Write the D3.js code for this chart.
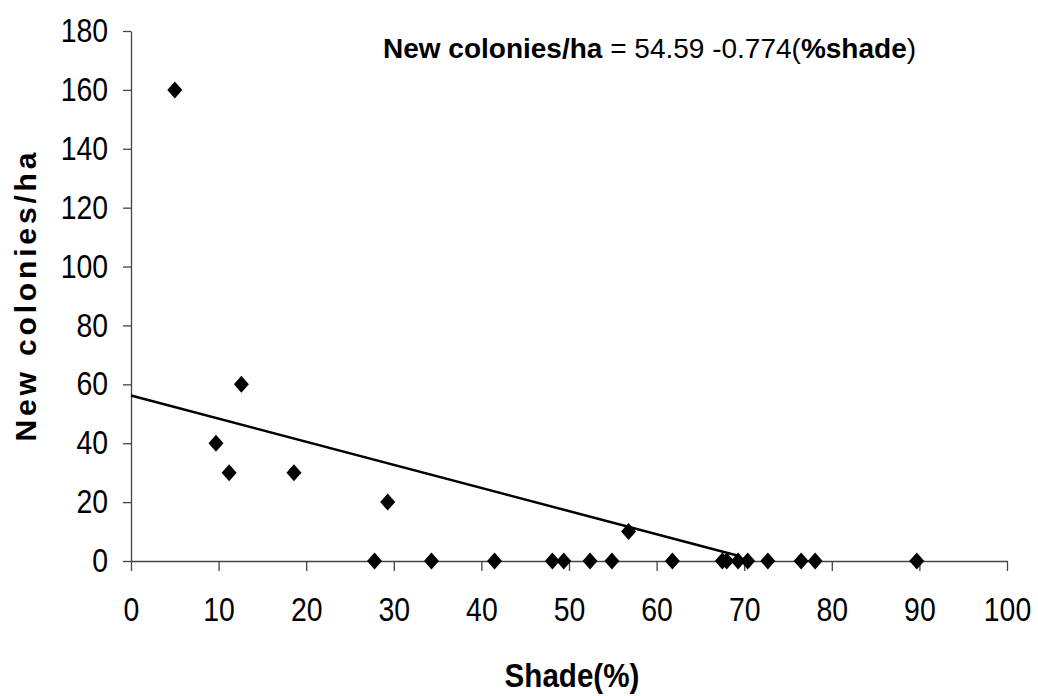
<!DOCTYPE html>
<html>
<head>
<meta charset="utf-8">
<script src="https://cdn.jsdelivr.net/npm/d3@7"></script>
<style>
  body { margin: 0; background: #fff; }
  svg { display: block; font-family: "Liberation Sans", Arial, sans-serif; }
</style>
</head>
<body>
<svg id="chart" width="1038" height="696"></svg>
<script>
// shade (%) and new colonies per ha
const shade = [5.0, 9.7, 11.2, 12.6, 18.6, 29.3, 27.8, 34.3, 41.5, 48.1, 49.4, 52.4, 54.9,
               56.8, 61.8, 67.5, 68.0, 69.3, 70.4, 72.7, 76.5, 78.1, 89.7]
const colonies = [160, 40, 30, 60, 30, 20, 0, 0, 0, 0, 0, 0, 0,
                  10, 0, 0, 0, 0, 0, 0, 0, 0, 0]

// fitted line end points
const trendX = [0, 69.3]
const trendY = [56.2, 1.8]

const xTicks = [0, 10, 20, 30, 40, 50, 60, 70, 80, 90, 100]
const yTicks = [0, 20, 40, 60, 80, 100, 120, 140, 160, 180]

const margin = {top: 31, right: 31, bottom: 135, left: 131}
const width = 1038, height = 696

const svg = d3.select('#chart')

const x = d3.scaleLinear().domain([0, 100]).range([margin.left, width - margin.right])
const y = d3.scaleLinear().domain([0, 180]).range([height - margin.bottom, margin.top])

// squeeze text a bit, the original uses a condensed-looking face
function squeeze(sel, k) {
    sel.each(function() {
        const w = this.getComputedTextLength()
        d3.select(this).attr('textLength', w * k).attr('lengthAdjust', 'spacingAndGlyphs')
    })
}

const xAxis = svg.append('g')
    .attr('transform', `translate(0,${y(0)})`)
    .call(d3.axisBottom(x).tickValues(xTicks).tickSize(10).tickSizeOuter(0).tickPadding(27))
const yAxis = svg.append('g')
    .attr('transform', `translate(${x(0)},0)`)
    .call(d3.axisLeft(y).tickValues(yTicks).tickSize(8).tickSizeOuter(0).tickPadding(15))

;[xAxis, yAxis].forEach(a => {
    a.select('.domain').attr('stroke', '#444').attr('stroke-width', 1.3)
    a.selectAll('.tick line').attr('stroke', '#444').attr('stroke-width', 1.3)
    a.selectAll('.tick text')
        .attr('fill', '#000')
        .style('font-size', '33px')
        .style('font-family', '"Liberation Sans", Arial, sans-serif')
        .call(squeeze, 0.86)
})

// trend line
svg.append('line')
    .attr('x1', x(trendX[0])).attr('y1', y(trendY[0]))
    .attr('x2', x(trendX[1])).attr('y2', y(trendY[1]))
    .attr('stroke', '#000')
    .attr('stroke-width', 2.5)

// diamonds
const pts = shade.map((s, i) => ({s: s, c: colonies[i]}))
svg.append('g').selectAll('path')
    .data(pts)
    .join('path')
    .attr('transform', d => `translate(${x(d.s)},${y(d.c)})`)
    .attr('d', 'M0,-8.5L7.5,0L0,8.5L-7.5,0Z')
    .attr('fill', '#000')

// equation
const eq = svg.append('text')
    .attr('x', 383)
    .attr('y', 58)
    .style('font-size', '28px')
    .attr('fill', '#000')
eq.append('tspan').attr('font-weight', 'bold').text('New colonies/ha')
eq.append('tspan').text(' = 54.59 -0.774(')
eq.append('tspan').attr('font-weight', 'bold').text('%shade')
eq.append('tspan').text(')')

// axis titles
svg.append('text')
    .attr('x', 572)
    .attr('y', 687)
    .attr('text-anchor', 'middle')
    .attr('font-weight', 'bold')
    .style('font-size', '34px')
    .text('Shade(%)')
    .call(squeeze, 0.87)

svg.append('text')
    .attr('transform', 'translate(36,297) rotate(-90)')
    .attr('text-anchor', 'middle')
    .attr('font-weight', 'bold')
    .style('font-size', '30px')
    .text('New colonies/ha')
    .attr('textLength', 289)
    .attr('lengthAdjust', 'spacing')
</script>
</body>
</html>
